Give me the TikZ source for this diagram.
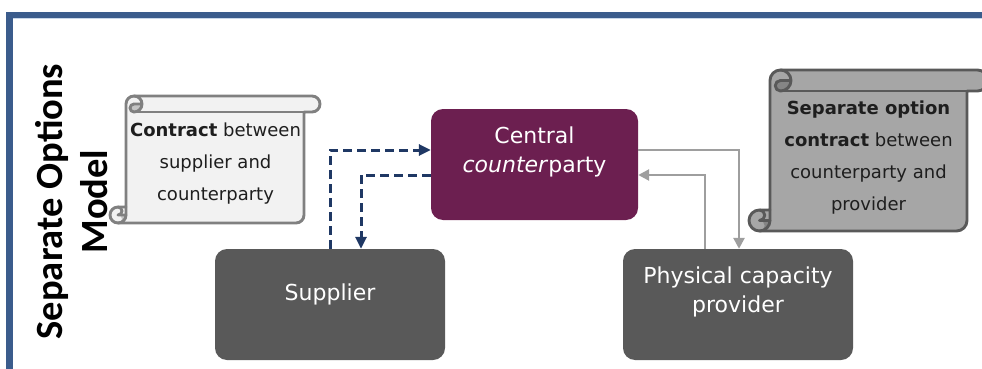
\documentclass[tikz,border=0pt]{standalone}
\usepackage{fontspec}
\setmainfont{DejaVu Sans}
\newfontfamily\titlefont{Carlito}
\usetikzlibrary{arrows.meta}

\definecolor{frameblue}{RGB}{59,92,140}
\definecolor{framelight}{RGB}{200,214,232}
\definecolor{ccpurple}{RGB}{108,31,80}
\definecolor{boxgray}{RGB}{89,89,89}
\definecolor{flownavy}{RGB}{31,56,100}
\definecolor{flowgray}{RGB}{158,158,158}
\definecolor{paperlight}{RGB}{242,242,242}
\definecolor{paperlightedge}{RGB}{128,128,128}
\definecolor{paperlightcurl}{RGB}{196,196,196}
\definecolor{paperdark}{RGB}{166,166,166}
\definecolor{paperdarkedge}{RGB}{89,89,89}
\definecolor{paperdarkcurl}{RGB}{133,133,133}
\definecolor{scrollink}{RGB}{30,30,30}

% Vertical scroll: #1 left, #2 top, #3 right, #4 bottom, #5 roll size,
% #6 paper colour, #7 edge colour, #8 curl shade (y axis points down)
\newcommand{\vscroll}[8]{%
  \pgfmathsetmacro\scL{#1}\pgfmathsetmacro\scT{#2}%
  \pgfmathsetmacro\scR{#3}\pgfmathsetmacro\scB{#4}%
  \pgfmathsetmacro\scC{#5}\pgfmathsetmacro\scH{#5/2}\pgfmathsetmacro\scQ{#5/4}%
  \filldraw[fill=#6, draw=#7, scrolledge]
    (\scL+\scC,\scB-\scC) -- (\scL+\scC,\scT+\scH)
    arc[start angle=180,delta angle=90,radius=\scH] -- (\scR-\scH,\scT)
    arc[start angle=270,delta angle=180,radius=\scH] -- (\scR-\scC,\scT+\scC)
    -- (\scR-\scC,\scB-\scH) arc[start angle=0,delta angle=90,radius=\scH]
    -- (\scL+\scH,\scB) arc[start angle=90,delta angle=180,radius=\scH] -- cycle;
  \fill[#8] (\scL+2*\scC,\scT+\scH) arc[start angle=0,delta angle=90,radius=\scH]
    arc[start angle=90,delta angle=180,radius=\scQ] -- cycle;
  \fill[#8] (\scL+\scC,\scB-\scH) arc[start angle=0,delta angle=90,radius=\scH]
    arc[start angle=90,delta angle=-180,radius=\scQ] -- cycle;
  \draw[#7, scrolledge] (\scL+1.5*\scC,\scT) arc[start angle=270,delta angle=180,radius=\scH]
    arc[start angle=90,delta angle=180,radius=\scQ] -- (\scL+2*\scC,\scT+\scH);
  \draw[#7, scrolledge] (\scR-\scC,\scT+\scC) -- (\scL+1.5*\scC,\scT+\scC);
  \draw[#7, scrolledge] (\scL+\scH,\scB-\scC) arc[start angle=270,delta angle=180,radius=\scQ]
    -- (\scL+\scC,\scB-\scH);
  \draw[#7, scrolledge] (\scL+\scH,\scB) arc[start angle=90,delta angle=-90,radius=\scH]
    -- (\scL+\scC,\scB-\scC);
}

\tikzset{
  scrolledge/.style={line width=2.9pt, line join=round, line cap=round},
  block/.style={rounded corners=12pt, inner sep=0pt, draw=none,
    minimum width=230pt, minimum height=111pt},
  boxtext/.style={text=white, align=center, inner sep=0pt,
    font=\fontsize{22}{28.7}\selectfont},
  scrolltext/.style={text=scrollink, align=center, inner sep=0pt,
    font=\fontsize{18}{32}\selectfont},
  titletext/.style={inner sep=0pt, anchor=base, rotate=90,
    font=\titlefont\bfseries\fontsize{38.5}{46}\selectfont},
  navyflow/.style={draw=flownavy, line width=3pt, dash pattern=on 9pt off 5pt,
    -{Triangle[length=12pt,width=11pt]}},
  grayflow/.style={draw=flowgray, line width=2.6pt,
    -{Triangle[length=11pt,width=11pt]}},
}

\begin{document}
\begin{tikzpicture}[x=1pt,y=-1pt]
  \useasboundingbox (0,0) rectangle (982,369);
  \clip (0,0) rectangle (982,369);

  % frame
  \fill[frameblue] (6,12) rectangle (982,18);
  \fill[frameblue] (6,12) rectangle (13,369);
  \fill[framelight] (13,18) rectangle (982,19.4);

  % side title
  \node[titletext] (title1) at (62,201.5) {Separate Options};
  \node[titletext] (title2) at (107,201.5) {Model};

  % contract scrolls
  \vscroll{110}{96}{320}{223}{16}{paperlight}{paperlightedge}{paperlightcurl}
  \vscroll{749}{70}{988}{231}{21}{paperdark}{paperdarkedge}{paperdarkcurl}
  \node[scrolltext] (leftdeal) at (215.5,163.7)
    {\textbf{Contract} between\\supplier and\\counterparty};
  \node[scrolltext] (rightdeal) at (868.5,157.6)
    {\textbf{Separate option}\\\textbf{contract} between\\counterparty and\\provider};

  % parties
  \node[block, fill=ccpurple, minimum width=207pt] (cc) at (534.5,164.5) {};
  \node[block, fill=boxgray] (sup) at (330,304.5) {};
  \node[block, fill=boxgray] (prov) at (738,304.5) {};
  \node[boxtext] (cctext) at (534.5,151.8) {Central\\\textit{counter}party};
  \node[boxtext] (suptext) at (330,294) {Supplier};
  \node[boxtext] (provtext) at (738,291.8) {Physical capacity\\provider};

  % flows
  \draw[navyflow] (sup.north) |- ([yshift=14.5pt]cc.west);
  \draw[navyflow] ([yshift=-10.5pt]cc.west) -| ([xshift=31pt]sup.north);
  \draw[grayflow] ([yshift=14.5pt]cc.east) -| ([xshift=1pt]prov.north);
  \draw[grayflow] ([xshift=-33pt]prov.north) |- ([yshift=-10.5pt]cc.east);
\end{tikzpicture}
\end{document}
